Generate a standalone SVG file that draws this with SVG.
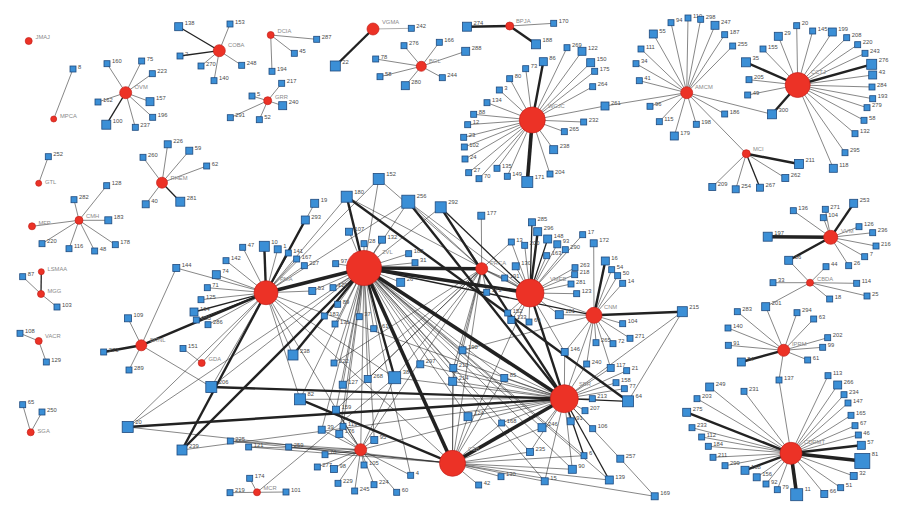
<svg xmlns="http://www.w3.org/2000/svg" width="910" height="516" viewBox="0 0 910 516">
<style>
.c line{stroke:#222;stroke-width:.55}
.c .m{stroke-width:1.3}
.c .t{stroke-width:2.4}
.c .x{stroke-width:3.6}
.c .g{stroke:#999;stroke-width:.8}
.h{fill:#ec3226;stroke:#c4211b;stroke-width:.7}
.n{fill:#3b8fd6;stroke:#1f4a7e;stroke-width:.8}
text{font-family:"Liberation Sans",Arial,sans-serif;font-size:5.8px;fill:#4a4a4a}
.hl{fill:#8a8a8a}
</style>
<rect width="910" height="516" fill="#fff"/>
<g id="connectors" class="c">
<line x1="53.7" y1="119" x2="73" y2="69"/>
<line x1="125.7" y1="92.7" x2="107" y2="63.7"/><line x1="125.7" y1="92.7" x2="141.7" y2="61"/><line x1="125.7" y1="92.7" x2="152.3" y2="73.7"/><line x1="125.7" y1="92.7" x2="98" y2="102"/><line x1="125.7" y1="92.7" x2="150" y2="101.7"/><line class="m" x1="125.7" y1="92.7" x2="106.3" y2="124.7"/><line x1="125.7" y1="92.7" x2="152.7" y2="117.3"/><line x1="125.7" y1="92.7" x2="135.3" y2="127.3"/>
<line class="m" x1="219.3" y1="50.7" x2="178.7" y2="26.7"/><line x1="219.3" y1="50.7" x2="230" y2="24"/><line class="m" x1="219.3" y1="50.7" x2="180" y2="56"/><line x1="219.3" y1="50.7" x2="201" y2="66"/><line x1="219.3" y1="50.7" x2="241.7" y2="65.3"/><line x1="219.3" y1="50.7" x2="214" y2="80.7"/>
<line x1="270.7" y1="35" x2="294.3" y2="53.3"/><line x1="270.7" y1="35" x2="272" y2="71.3"/><line x1="270.7" y1="35" x2="316.7" y2="39.3"/>
<line x1="267.7" y1="100.7" x2="281.7" y2="83.3"/><line x1="267.7" y1="100.7" x2="252" y2="96"/><line x1="267.7" y1="100.7" x2="282.7" y2="105.7"/><line x1="267.7" y1="100.7" x2="230.3" y2="117.7"/><line x1="267.7" y1="100.7" x2="259.3" y2="119.7"/>
<line x1="38.7" y1="183.3" x2="48.3" y2="156.7"/>
<line x1="162" y1="182.7" x2="167.7" y2="144.3"/><line x1="162" y1="182.7" x2="189.3" y2="150.7"/><line x1="162" y1="182.7" x2="143" y2="157.3"/><line x1="162" y1="182.7" x2="206.7" y2="166"/><line x1="162" y1="182.7" x2="145.7" y2="204.3"/><line class="m" x1="162" y1="182.7" x2="180.3" y2="201.7"/>
<line x1="79" y1="220.3" x2="32" y2="226.3"/><line x1="79" y1="220.3" x2="106.7" y2="185.7"/><line x1="79" y1="220.3" x2="74" y2="199.7"/><line x1="79" y1="220.3" x2="108.3" y2="220.3"/><line x1="79" y1="220.3" x2="42" y2="243.7"/><line x1="79" y1="220.3" x2="69" y2="248.7"/><line x1="79" y1="220.3" x2="94.7" y2="251"/><line x1="79" y1="220.3" x2="115.3" y2="244.7"/>
<line class="m" x1="41.3" y1="271.7" x2="41" y2="294"/><line x1="41" y1="294" x2="22.7" y2="276.7"/><line x1="41" y1="294" x2="57" y2="307"/>
<line x1="38.7" y1="341" x2="20" y2="333.3"/><line x1="38.7" y1="341" x2="46.3" y2="362"/>
<line x1="30.7" y1="432.3" x2="22.7" y2="404.7"/><line x1="30.7" y1="432.3" x2="42" y2="412"/>
<line x1="257" y1="492.3" x2="249.7" y2="478.3"/><line x1="257" y1="492.3" x2="230" y2="492.7"/><line x1="257" y1="492.3" x2="286" y2="492"/><line x1="257" y1="492.3" x2="394.7" y2="377.7"/>
<line class="g" x1="373" y1="29" x2="411.3" y2="28.3"/><line class="t" x1="373" y1="29" x2="335.3" y2="66"/>
<line class="t" x1="509.7" y1="26" x2="467" y2="26.7"/><line x1="509.7" y1="26" x2="553.7" y2="23.3"/><line class="t" x1="509.7" y1="26" x2="536" y2="44.3"/>
<line x1="421.3" y1="66.3" x2="404" y2="45.7"/><line x1="421.3" y1="66.3" x2="439.3" y2="42.3"/><line x1="421.3" y1="66.3" x2="465.7" y2="51.3"/><line x1="421.3" y1="66.3" x2="375.7" y2="59"/><line x1="421.3" y1="66.3" x2="380" y2="76.7"/><line x1="421.3" y1="66.3" x2="442.3" y2="77.7"/><line x1="421.3" y1="66.3" x2="405.3" y2="85.7"/>
<line x1="532.3" y1="120" x2="567" y2="47.7"/><line x1="532.3" y1="120" x2="582" y2="51.3"/><line class="t" x1="532.3" y1="120" x2="543.3" y2="61.7"/><line x1="532.3" y1="120" x2="525.7" y2="68.7"/><line x1="532.3" y1="120" x2="590.7" y2="62.7"/><line x1="532.3" y1="120" x2="594.7" y2="71.3"/><line x1="532.3" y1="120" x2="509.7" y2="78.7"/><line x1="532.3" y1="120" x2="592.7" y2="86.7"/><line x1="532.3" y1="120" x2="499.3" y2="90"/><line x1="532.3" y1="120" x2="487" y2="102.7"/><line x1="532.3" y1="120" x2="605" y2="106"/><line x1="532.3" y1="120" x2="473.7" y2="114.3"/><line x1="532.3" y1="120" x2="467.7" y2="124.7"/><line x1="532.3" y1="120" x2="583.7" y2="122"/><line x1="532.3" y1="120" x2="564.3" y2="131.7"/><line x1="532.3" y1="120" x2="463.7" y2="137.3"/><line x1="532.3" y1="120" x2="464.3" y2="147"/><line x1="532.3" y1="120" x2="553.7" y2="149.7"/><line x1="532.3" y1="120" x2="465" y2="159"/><line x1="532.3" y1="120" x2="468.7" y2="172.7"/><line x1="532.3" y1="120" x2="479" y2="178.7"/><line x1="532.3" y1="120" x2="497" y2="168.3"/><line x1="532.3" y1="120" x2="507.3" y2="176.3"/><line class="x" x1="532.3" y1="120" x2="527.3" y2="182"/><line x1="532.3" y1="120" x2="550" y2="174"/>
<line x1="686.7" y1="92.7" x2="671" y2="22.7"/><line x1="686.7" y1="92.7" x2="688" y2="18"/><line x1="686.7" y1="92.7" x2="700.7" y2="19.3"/><line x1="686.7" y1="92.7" x2="715" y2="25.3"/><line x1="686.7" y1="92.7" x2="724.7" y2="34.7"/><line x1="686.7" y1="92.7" x2="653.3" y2="34"/><line x1="686.7" y1="92.7" x2="732.7" y2="46"/><line x1="686.7" y1="92.7" x2="641" y2="49"/><line x1="686.7" y1="92.7" x2="636" y2="63.7"/><line x1="686.7" y1="92.7" x2="639.3" y2="80.7"/><line x1="686.7" y1="92.7" x2="650" y2="106.3"/><line x1="686.7" y1="92.7" x2="659.3" y2="121.7"/><line x1="686.7" y1="92.7" x2="674.3" y2="136"/><line x1="686.7" y1="92.7" x2="696.3" y2="124.3"/><line x1="686.7" y1="92.7" x2="724.7" y2="114"/><line x1="686.7" y1="92.7" x2="772" y2="114.3"/><line x1="686.7" y1="92.7" x2="605" y2="106"/><line x1="686.7" y1="92.7" x2="746.3" y2="153.7"/>
<line x1="797.7" y1="85" x2="796.7" y2="25.7"/><line x1="797.7" y1="85" x2="778.3" y2="36.3"/><line x1="797.7" y1="85" x2="812.7" y2="31"/><line x1="797.7" y1="85" x2="832.3" y2="32"/><line x1="797.7" y1="85" x2="763" y2="49"/><line x1="797.7" y1="85" x2="846.7" y2="37.7"/><line x1="797.7" y1="85" x2="857.7" y2="44.7"/><line x1="797.7" y1="85" x2="865" y2="53.3"/><line class="t" x1="797.7" y1="85" x2="746" y2="62.3"/><line class="t" x1="797.7" y1="85" x2="871.7" y2="64.3"/><line x1="797.7" y1="85" x2="872.7" y2="75"/><line x1="797.7" y1="85" x2="749" y2="79.7"/><line x1="797.7" y1="85" x2="872" y2="87"/><line x1="797.7" y1="85" x2="747.7" y2="95"/><line x1="797.7" y1="85" x2="872.7" y2="98.7"/><line x1="797.7" y1="85" x2="867" y2="107.7"/><line x1="797.7" y1="85" x2="864" y2="120.3"/><line x1="797.7" y1="85" x2="855" y2="133.7"/><line x1="797.7" y1="85" x2="845" y2="152.7"/><line x1="797.7" y1="85" x2="833.3" y2="168.3"/><line class="t" x1="797.7" y1="85" x2="772" y2="114.3"/>
<line class="t" x1="746.3" y1="153.7" x2="799" y2="164"/><line x1="746.3" y1="153.7" x2="785.3" y2="178"/><line x1="746.3" y1="153.7" x2="712.3" y2="187"/><line x1="746.3" y1="153.7" x2="735.7" y2="189.3"/><line class="m" x1="746.3" y1="153.7" x2="760" y2="187.7"/>
<line x1="830.7" y1="237.3" x2="793.3" y2="210.7"/><line x1="830.7" y1="237.3" x2="825.3" y2="209.3"/><line x1="830.7" y1="237.3" x2="823.3" y2="217.7"/><line class="t" x1="830.7" y1="237.3" x2="853.7" y2="203.3"/><line x1="830.7" y1="237.3" x2="859" y2="226.7"/><line x1="830.7" y1="237.3" x2="872.7" y2="232.7"/><line x1="830.7" y1="237.3" x2="876" y2="246"/><line class="x" x1="830.7" y1="237.3" x2="767.7" y2="236.7"/><line class="t" x1="830.7" y1="237.3" x2="788.7" y2="260.3"/><line x1="830.7" y1="237.3" x2="864.7" y2="256.7"/><line x1="830.7" y1="237.3" x2="848.7" y2="265.7"/>
<line x1="810" y1="282.7" x2="788.7" y2="260.3"/><line x1="810" y1="282.7" x2="826" y2="266.7"/><line x1="810" y1="282.7" x2="773" y2="282.7"/><line x1="810" y1="282.7" x2="856.7" y2="283.3"/><line x1="810" y1="282.7" x2="867" y2="296"/><line x1="810" y1="282.7" x2="829.7" y2="299"/><line x1="810" y1="282.7" x2="765.7" y2="306.7"/>
<line x1="783.7" y1="350.3" x2="765.7" y2="306.7"/><line x1="783.7" y1="350.3" x2="737.3" y2="311.7"/><line x1="783.7" y1="350.3" x2="797" y2="312.7"/><line x1="783.7" y1="350.3" x2="813.7" y2="319"/><line x1="783.7" y1="350.3" x2="728" y2="328"/><line x1="783.7" y1="350.3" x2="827.7" y2="337.7"/><line x1="783.7" y1="350.3" x2="822.7" y2="347.3"/><line x1="783.7" y1="350.3" x2="728.3" y2="345.3"/><line class="t" x1="783.7" y1="350.3" x2="741.3" y2="362"/><line x1="783.7" y1="350.3" x2="807.7" y2="360"/><line x1="783.7" y1="350.3" x2="779" y2="380"/>
<line x1="791" y1="453.3" x2="779" y2="380"/><line x1="791" y1="453.3" x2="828" y2="375.7"/><line x1="791" y1="453.3" x2="837.7" y2="385"/><line x1="791" y1="453.3" x2="844" y2="394.7"/><line x1="791" y1="453.3" x2="848" y2="403"/><line x1="791" y1="453.3" x2="851" y2="415.3"/><line x1="791" y1="453.3" x2="855" y2="425.7"/><line x1="791" y1="453.3" x2="858.3" y2="435"/><line class="t" x1="791" y1="453.3" x2="861.3" y2="445.3"/><line class="x" x1="791" y1="453.3" x2="862.3" y2="461"/><line x1="791" y1="453.3" x2="853.7" y2="476"/><line x1="791" y1="453.3" x2="840.7" y2="487.7"/><line x1="791" y1="453.3" x2="824.3" y2="494"/><line class="x" x1="791" y1="453.3" x2="796.7" y2="494.7"/><line x1="791" y1="453.3" x2="777.3" y2="489.7"/><line x1="791" y1="453.3" x2="766" y2="484"/><line x1="791" y1="453.3" x2="756.7" y2="477.3"/><line class="t" x1="791" y1="453.3" x2="745" y2="470.3"/><line x1="791" y1="453.3" x2="725" y2="465.7"/><line x1="791" y1="453.3" x2="713" y2="457.3"/><line x1="791" y1="453.3" x2="708.3" y2="446.3"/><line x1="791" y1="453.3" x2="701.7" y2="437"/><line x1="791" y1="453.3" x2="692" y2="427.7"/><line class="t" x1="791" y1="453.3" x2="686.7" y2="412.3"/><line x1="791" y1="453.3" x2="697" y2="398.7"/><line x1="791" y1="453.3" x2="709.7" y2="387"/><line x1="791" y1="453.3" x2="744" y2="391.3"/>
<line x1="141.3" y1="345.3" x2="176.3" y2="268"/><line x1="141.3" y1="345.3" x2="128" y2="318.3"/><line class="t" x1="141.3" y1="345.3" x2="103.7" y2="352"/><line x1="141.3" y1="345.3" x2="129" y2="370"/><line x1="141.3" y1="345.3" x2="211.3" y2="387"/><line class="t" x1="141.3" y1="345.3" x2="266" y2="292.7"/>
<line x1="176.3" y1="268" x2="266" y2="292.7"/>
<line x1="201.7" y1="363" x2="183" y2="348.5"/><line x1="201.7" y1="363" x2="266" y2="292.7"/>
<line x1="266" y1="292.7" x2="242.7" y2="247.3"/><line class="t" x1="266" y1="292.7" x2="264.3" y2="246.3"/><line x1="266" y1="292.7" x2="277.7" y2="249.3"/><line class="m" x1="266" y1="292.7" x2="288.3" y2="253"/><line x1="266" y1="292.7" x2="296.7" y2="259"/><line x1="266" y1="292.7" x2="304.3" y2="265.7"/><line x1="266" y1="292.7" x2="226" y2="260.7"/><line x1="266" y1="292.7" x2="216.3" y2="274.7"/><line x1="266" y1="292.7" x2="207.3" y2="287.7"/><line x1="266" y1="292.7" x2="201" y2="299.7"/><line class="m" x1="266" y1="292.7" x2="194" y2="312"/><line class="m" x1="266" y1="292.7" x2="196.3" y2="320"/><line x1="266" y1="292.7" x2="208" y2="324.7"/><line x1="266" y1="292.7" x2="312.3" y2="291"/><line class="t" x1="266" y1="292.7" x2="305.3" y2="220"/><line x1="266" y1="292.7" x2="314.7" y2="203.3"/><line class="t" x1="266" y1="292.7" x2="182" y2="450"/><line x1="266" y1="292.7" x2="127.7" y2="427"/><line x1="266" y1="292.7" x2="211.3" y2="387"/><line x1="266" y1="292.7" x2="360.7" y2="449.7"/><line x1="266" y1="292.7" x2="452.5" y2="463.3"/><line x1="266" y1="292.7" x2="394.7" y2="377.7"/><line x1="266" y1="292.7" x2="564.3" y2="398.7"/><line x1="266" y1="292.7" x2="300" y2="399.3"/><line x1="266" y1="292.7" x2="293" y2="355"/><line x1="266" y1="292.7" x2="378.7" y2="179"/><line x1="266" y1="292.7" x2="346.7" y2="196.7"/><line x1="266" y1="292.7" x2="408.3" y2="201.7"/><line class="x" x1="266" y1="292.7" x2="364" y2="268"/>
<line class="t" x1="364" y1="268" x2="346.7" y2="196.7"/><line x1="364" y1="268" x2="378.7" y2="179"/><line x1="364" y1="268" x2="408.3" y2="201.7"/><line x1="364" y1="268" x2="440.7" y2="207.3"/><line x1="364" y1="268" x2="349" y2="231.7"/><line x1="364" y1="268" x2="364" y2="243.7"/><line x1="364" y1="268" x2="382" y2="239.7"/><line x1="364" y1="268" x2="408.7" y2="253.7"/><line x1="364" y1="268" x2="415" y2="262.7"/><line x1="364" y1="268" x2="335.7" y2="263.7"/><line x1="364" y1="268" x2="333" y2="287.7"/><line x1="364" y1="268" x2="337.7" y2="304.3"/><line x1="364" y1="268" x2="324.3" y2="316"/><line x1="364" y1="268" x2="335" y2="324"/><line x1="364" y1="268" x2="359.3" y2="316.7"/><line x1="364" y1="268" x2="373.7" y2="328.7"/><line x1="364" y1="268" x2="400.7" y2="282.3"/><line x1="364" y1="268" x2="312.3" y2="291"/>
<line class="x" x1="364" y1="268" x2="481.7" y2="268.7"/><line class="x" x1="364" y1="268" x2="530" y2="293"/><line class="x" x1="364" y1="268" x2="564.3" y2="398.7"/><line class="x" x1="364" y1="268" x2="452.5" y2="463.3"/><line class="t" x1="364" y1="268" x2="394.7" y2="377.7"/><line class="t" x1="364" y1="268" x2="182" y2="450"/><line class="t" x1="364" y1="268" x2="293" y2="355"/><line class="m" x1="364" y1="268" x2="594" y2="315.3"/>
<line x1="364" y1="268" x2="360.7" y2="449.7"/><line x1="364" y1="268" x2="334" y2="363"/><line x1="364" y1="268" x2="342.7" y2="384.7"/><line x1="364" y1="268" x2="367.7" y2="379"/><line x1="364" y1="268" x2="321.7" y2="429.7"/><line x1="364" y1="268" x2="336" y2="409.7"/><line x1="364" y1="268" x2="343" y2="426.3"/><line x1="364" y1="268" x2="339.3" y2="434"/><line x1="364" y1="268" x2="374.3" y2="440"/><line x1="364" y1="268" x2="300" y2="399.3"/><line x1="364" y1="268" x2="211.3" y2="387"/><line x1="364" y1="268" x2="127.7" y2="427"/><line x1="364" y1="268" x2="420.3" y2="364.3"/><line x1="364" y1="268" x2="453.3" y2="368"/><line x1="364" y1="268" x2="452.7" y2="381.3"/><line x1="364" y1="268" x2="410.7" y2="475.3"/><line x1="364" y1="268" x2="462.5" y2="350.3"/><line x1="364" y1="268" x2="468" y2="416.7"/><line x1="364" y1="268" x2="504.3" y2="378"/><line x1="364" y1="268" x2="542" y2="427.7"/><line x1="364" y1="268" x2="530" y2="452"/><line x1="364" y1="268" x2="572.3" y2="469.3"/><line x1="364" y1="268" x2="544.7" y2="481.3"/><line x1="364" y1="268" x2="584" y2="455.7"/><line x1="364" y1="268" x2="609.3" y2="480"/>
<line x1="481.7" y1="268.7" x2="481.3" y2="215.7"/><line x1="481.7" y1="268.7" x2="511.3" y2="242"/><line x1="481.7" y1="268.7" x2="486.7" y2="292.3"/><line x1="481.7" y1="268.7" x2="504.7" y2="278"/><line x1="481.7" y1="268.7" x2="530" y2="293"/><line x1="481.7" y1="268.7" x2="408.3" y2="201.7"/><line x1="481.7" y1="268.7" x2="440.7" y2="207.3"/><line x1="481.7" y1="268.7" x2="452.5" y2="463.3"/><line x1="481.7" y1="268.7" x2="360.7" y2="449.7"/><line x1="481.7" y1="268.7" x2="394.7" y2="377.7"/><line x1="481.7" y1="268.7" x2="452.7" y2="381.3"/><line x1="481.7" y1="268.7" x2="453.3" y2="368"/><line x1="481.7" y1="268.7" x2="462.5" y2="350.3"/><line x1="481.7" y1="268.7" x2="378.7" y2="179"/><line x1="481.7" y1="268.7" x2="334" y2="363"/><line x1="481.7" y1="268.7" x2="342.7" y2="384.7"/><line x1="481.7" y1="268.7" x2="367.7" y2="379"/><line x1="481.7" y1="268.7" x2="336" y2="409.7"/>
<line class="m" x1="530" y1="293" x2="532" y2="222.3"/><line class="t" x1="530" y1="293" x2="537.7" y2="231.7"/><line class="m" x1="530" y1="293" x2="547.7" y2="239"/><line x1="530" y1="293" x2="524.7" y2="245.3"/><line x1="530" y1="293" x2="557.3" y2="244.3"/><line x1="530" y1="293" x2="565.3" y2="249.7"/><line x1="530" y1="293" x2="546.7" y2="255.7"/><line x1="530" y1="293" x2="515.7" y2="266.3"/><line x1="530" y1="293" x2="504.7" y2="278"/><line x1="530" y1="293" x2="575" y2="267.7"/><line x1="530" y1="293" x2="574.7" y2="274.7"/><line x1="530" y1="293" x2="571" y2="284"/><line x1="530" y1="293" x2="576.7" y2="293.7"/><line x1="530" y1="293" x2="559.3" y2="314.7"/><line x1="530" y1="293" x2="507.7" y2="313"/><line x1="530" y1="293" x2="511.3" y2="320"/><line x1="530" y1="293" x2="529" y2="322"/><line x1="530" y1="293" x2="511.3" y2="242"/><line x1="530" y1="293" x2="582.7" y2="234.7"/><line class="t" x1="530" y1="293" x2="564.3" y2="398.7"/><line x1="530" y1="293" x2="594" y2="315.3"/><line x1="530" y1="293" x2="452.5" y2="463.3"/><line class="m" x1="530" y1="293" x2="440.7" y2="207.3"/><line x1="530" y1="293" x2="408.3" y2="201.7"/><line x1="530" y1="293" x2="346.7" y2="196.7"/><line x1="530" y1="293" x2="564.7" y2="352"/>
<line x1="594" y1="315.3" x2="593.7" y2="243.3"/><line class="t" x1="594" y1="315.3" x2="605.3" y2="261"/><line x1="594" y1="315.3" x2="611.7" y2="269.7"/><line x1="594" y1="315.3" x2="617.7" y2="275.7"/><line x1="594" y1="315.3" x2="622.7" y2="283.3"/><line x1="594" y1="315.3" x2="559.3" y2="314.7"/><line class="t" x1="594" y1="315.3" x2="682.3" y2="311.7"/><line x1="594" y1="315.3" x2="622.7" y2="323.7"/><line x1="594" y1="315.3" x2="630" y2="338.3"/><line x1="594" y1="315.3" x2="596" y2="342.7"/><line x1="594" y1="315.3" x2="613" y2="343.7"/><line x1="594" y1="315.3" x2="564.7" y2="352"/><line x1="594" y1="315.3" x2="564.3" y2="398.7"/><line x1="594" y1="315.3" x2="462.5" y2="350.3"/><line x1="594" y1="315.3" x2="586.7" y2="364"/><line x1="594" y1="315.3" x2="610.7" y2="368"/>
<line x1="682.3" y1="311.7" x2="564.3" y2="398.7"/><line x1="682.3" y1="311.7" x2="628" y2="401.3"/>
<line x1="564.3" y1="398.7" x2="564.7" y2="352"/><line x1="564.3" y1="398.7" x2="586.7" y2="364"/><line x1="564.3" y1="398.7" x2="610.7" y2="368"/><line x1="564.3" y1="398.7" x2="626.7" y2="370.7"/><line x1="564.3" y1="398.7" x2="616" y2="382.7"/><line x1="564.3" y1="398.7" x2="624.3" y2="388.7"/><line class="m" x1="564.3" y1="398.7" x2="628" y2="401.3"/><line x1="564.3" y1="398.7" x2="592.3" y2="398.7"/><line x1="564.3" y1="398.7" x2="585" y2="410.7"/><line x1="564.3" y1="398.7" x2="570.7" y2="421.3"/><line x1="564.3" y1="398.7" x2="592.7" y2="428.7"/><line class="m" x1="564.3" y1="398.7" x2="584" y2="455.7"/><line x1="564.3" y1="398.7" x2="620.3" y2="458.7"/><line x1="564.3" y1="398.7" x2="572.3" y2="469.3"/><line class="m" x1="564.3" y1="398.7" x2="609.3" y2="480"/><line x1="564.3" y1="398.7" x2="544.7" y2="481.3"/><line x1="564.3" y1="398.7" x2="542" y2="427.7"/><line x1="564.3" y1="398.7" x2="530" y2="452"/><line x1="564.3" y1="398.7" x2="468" y2="416.7"/><line x1="564.3" y1="398.7" x2="504.3" y2="378"/><line x1="564.3" y1="398.7" x2="453.3" y2="368"/><line x1="564.3" y1="398.7" x2="452.7" y2="381.3"/><line x1="564.3" y1="398.7" x2="462.5" y2="350.3"/><line x1="564.3" y1="398.7" x2="501.7" y2="423"/><line class="x" x1="564.3" y1="398.7" x2="452.5" y2="463.3"/><line class="t" x1="564.3" y1="398.7" x2="127.7" y2="427"/><line class="t" x1="564.3" y1="398.7" x2="211.3" y2="387"/><line x1="564.3" y1="398.7" x2="300" y2="399.3"/><line x1="564.3" y1="398.7" x2="394.7" y2="377.7"/><line x1="564.3" y1="398.7" x2="360.7" y2="449.7"/><line x1="564.3" y1="398.7" x2="420.3" y2="364.3"/><line class="t" x1="564.3" y1="398.7" x2="408.3" y2="201.7"/><line class="t" x1="564.3" y1="398.7" x2="440.7" y2="207.3"/><line x1="564.3" y1="398.7" x2="182" y2="450"/>
<line class="t" x1="346.7" y1="196.7" x2="628" y2="401.3"/>
<line x1="452.5" y1="463.3" x2="468" y2="416.7"/><line x1="452.5" y1="463.3" x2="501.7" y2="423"/><line x1="452.5" y1="463.3" x2="501" y2="476.7"/><line x1="452.5" y1="463.3" x2="478.7" y2="485"/><line x1="452.5" y1="463.3" x2="544.7" y2="481.3"/><line x1="452.5" y1="463.3" x2="572.3" y2="469.3"/><line x1="452.5" y1="463.3" x2="609.3" y2="480"/><line x1="452.5" y1="463.3" x2="530" y2="452"/><line x1="452.5" y1="463.3" x2="542" y2="427.7"/><line x1="452.5" y1="463.3" x2="584" y2="455.7"/><line x1="452.5" y1="463.3" x2="654.7" y2="496.3"/><line class="t" x1="452.5" y1="463.3" x2="300" y2="399.3"/><line x1="452.5" y1="463.3" x2="127.7" y2="427"/><line x1="452.5" y1="463.3" x2="288.7" y2="447"/><line x1="452.5" y1="463.3" x2="230.3" y2="441"/><line x1="452.5" y1="463.3" x2="248.7" y2="447"/><line x1="452.5" y1="463.3" x2="504.3" y2="378"/><line x1="452.5" y1="463.3" x2="452.7" y2="381.3"/><line x1="452.5" y1="463.3" x2="453.3" y2="368"/>
<line x1="654.7" y1="496.3" x2="620.3" y2="458.7"/>
<line x1="360.7" y1="449.7" x2="325" y2="454.7"/><line x1="360.7" y1="449.7" x2="317.3" y2="467"/><line x1="360.7" y1="449.7" x2="334" y2="469"/><line x1="360.7" y1="449.7" x2="364" y2="465"/><line x1="360.7" y1="449.7" x2="338" y2="483.3"/><line x1="360.7" y1="449.7" x2="354.7" y2="491"/><line x1="360.7" y1="449.7" x2="374" y2="484.7"/><line x1="360.7" y1="449.7" x2="396.7" y2="492.3"/><line x1="360.7" y1="449.7" x2="410.7" y2="475.3"/><line x1="360.7" y1="449.7" x2="374.3" y2="440"/><line x1="360.7" y1="449.7" x2="343" y2="426.3"/><line x1="360.7" y1="449.7" x2="339.3" y2="434"/><line x1="360.7" y1="449.7" x2="321.7" y2="429.7"/><line x1="360.7" y1="449.7" x2="336" y2="409.7"/><line x1="360.7" y1="449.7" x2="394.7" y2="377.7"/><line x1="360.7" y1="449.7" x2="230.3" y2="441"/><line x1="360.7" y1="449.7" x2="248.7" y2="447"/>
</g>
<g id="n-JMAJ"><circle class="h" cx="28.7" cy="41" r="3.5"/><text class="hl" x="35.5" y="39">JMAJ</text></g>
<g id="n-MPCA"><circle class="h" cx="53.7" cy="119" r="3"/><text class="hl" x="60" y="117.5">MPCA</text></g>
<g id="n-8"><rect class="n" x="70" y="66" width="6" height="6"/><text x="78" y="68.5">8</text></g>
<g id="n-OVM"><circle class="h" cx="125.7" cy="92.7" r="6"/><text class="hl" x="134.5" y="89">OVM</text></g>
<g id="n-160"><rect class="n" x="104" y="60.7" width="6" height="6"/><text x="112" y="63">160</text></g>
<g id="n-75"><rect class="n" x="138.7" y="58" width="6" height="6"/><text x="146.7" y="60.5">75</text></g>
<g id="n-223"><rect class="n" x="149.3" y="70.7" width="6" height="6"/><text x="157.3" y="73">223</text></g>
<g id="n-162"><rect class="n" x="95" y="99" width="6" height="6"/><text x="103" y="101.5">162</text></g>
<g id="n-157"><rect class="n" x="146" y="97.7" width="8" height="8"/><text x="156" y="100">157</text></g>
<g id="n-100"><rect class="n" x="101.8" y="120.2" width="9" height="9"/><text x="112.8" y="122.7">100</text></g>
<g id="n-196"><rect class="n" x="149.7" y="114.3" width="6" height="6"/><text x="157.7" y="116.8">196</text></g>
<g id="n-237"><rect class="n" x="132.3" y="124.3" width="6" height="6"/><text x="140.3" y="126.8">237</text></g>
<g id="n-COBA"><circle class="h" cx="219.3" cy="50.7" r="6"/><text class="hl" x="228" y="47">COBA</text></g>
<g id="n-138"><rect class="n" x="174.7" y="22.7" width="8" height="8"/><text x="184.7" y="25">138</text></g>
<g id="n-153"><rect class="n" x="227" y="21" width="6" height="6"/><text x="235" y="23.5">153</text></g>
<g id="n-2"><rect class="n" x="177" y="53" width="6" height="6"/><text x="185" y="55.5">2</text></g>
<g id="n-270"><rect class="n" x="198" y="63" width="6" height="6"/><text x="206" y="65.5">270</text></g>
<g id="n-248"><rect class="n" x="238.7" y="62.3" width="6" height="6"/><text x="246.7" y="64.8">248</text></g>
<g id="n-140"><rect class="n" x="211" y="77.7" width="6" height="6"/><text x="219" y="80.2">140</text></g>
<g id="n-DCIA"><circle class="h" cx="270.7" cy="35" r="3.5"/><text class="hl" x="277.5" y="33">DCIA</text></g>
<g id="n-45"><rect class="n" x="291.3" y="50.3" width="6" height="6"/><text x="299.3" y="52.8">45</text></g>
<g id="n-194"><rect class="n" x="269" y="68.3" width="6" height="6"/><text x="277" y="70.8">194</text></g>
<g id="n-287"><rect class="n" x="313.7" y="36.3" width="6" height="6"/><text x="321.7" y="38.8">287</text></g>
<g id="n-GRR"><circle class="h" cx="267.7" cy="100.7" r="4"/><text class="hl" x="275" y="98.5">GRR</text></g>
<g id="n-217"><rect class="n" x="278.7" y="80.3" width="6" height="6"/><text x="286.7" y="82.8">217</text></g>
<g id="n-5"><rect class="n" x="249" y="93" width="6" height="6"/><text x="257" y="95.5">5</text></g>
<g id="n-240"><rect class="n" x="278.7" y="101.7" width="8" height="8"/><text x="288.7" y="104.2">240</text></g>
<g id="n-291"><rect class="n" x="227.3" y="114.7" width="6" height="6"/><text x="235.3" y="117.2">291</text></g>
<g id="n-52"><rect class="n" x="256.3" y="116.7" width="6" height="6"/><text x="264.3" y="119.2">52</text></g>
<g id="n-GTL"><circle class="h" cx="38.7" cy="183.3" r="3"/><text class="hl" x="45" y="184">GTL</text></g>
<g id="n-252"><rect class="n" x="45.3" y="153.7" width="6" height="6"/><text x="53.3" y="156.2">252</text></g>
<g id="n-RHEM"><circle class="h" cx="162" cy="182.7" r="5.5"/><text class="hl" x="170.5" y="179.5">RHEM</text></g>
<g id="n-226"><rect class="n" x="164.2" y="140.8" width="7" height="7"/><text x="173.2" y="143.3">226</text></g>
<g id="n-59"><rect class="n" x="185.8" y="147.2" width="7" height="7"/><text x="194.8" y="149.7">59</text></g>
<g id="n-260"><rect class="n" x="140" y="154.3" width="6" height="6"/><text x="148" y="156.8">260</text></g>
<g id="n-62"><rect class="n" x="203.7" y="163" width="6" height="6"/><text x="211.7" y="165.5">62</text></g>
<g id="n-40"><rect class="n" x="142.2" y="200.8" width="7" height="7"/><text x="151.2" y="203.3">40</text></g>
<g id="n-281"><rect class="n" x="175.8" y="197.2" width="9" height="9"/><text x="186.8" y="199.7">281</text></g>
<g id="n-CMH"><circle class="h" cx="79" cy="220.3" r="4"/><text class="hl" x="86" y="218">CMH</text></g>
<g id="n-MFP"><circle class="h" cx="32" cy="226.3" r="3.5"/><text class="hl" x="38.5" y="225">MFP</text></g>
<g id="n-128"><rect class="n" x="103.7" y="182.7" width="6" height="6"/><text x="111.7" y="185.2">128</text></g>
<g id="n-282"><rect class="n" x="71" y="196.7" width="6" height="6"/><text x="79" y="199.2">282</text></g>
<g id="n-183"><rect class="n" x="104.8" y="216.8" width="7" height="7"/><text x="113.8" y="219.3">183</text></g>
<g id="n-220"><rect class="n" x="39" y="240.7" width="6" height="6"/><text x="47" y="243.2">220</text></g>
<g id="n-116"><rect class="n" x="66" y="245.7" width="6" height="6"/><text x="74" y="248.2">116</text></g>
<g id="n-48"><rect class="n" x="91.7" y="248" width="6" height="6"/><text x="99.7" y="250.5">48</text></g>
<g id="n-178"><rect class="n" x="112.3" y="241.7" width="6" height="6"/><text x="120.3" y="244.2">178</text></g>
<g id="n-LSMAA"><circle class="h" cx="41.3" cy="271.7" r="3"/><text class="hl" x="47.5" y="271">LSMAA</text></g>
<g id="n-MGG"><circle class="h" cx="41" cy="294" r="3.5"/><text class="hl" x="47.5" y="293">MGG</text></g>
<g id="n-87"><rect class="n" x="19.7" y="273.7" width="6" height="6"/><text x="27.7" y="276.2">87</text></g>
<g id="n-103"><rect class="n" x="54" y="304" width="6" height="6"/><text x="62" y="306.5">103</text></g>
<g id="n-VACR"><circle class="h" cx="38.7" cy="341" r="3.5"/><text class="hl" x="45" y="338">VACR</text></g>
<g id="n-108"><rect class="n" x="17" y="330.3" width="6" height="6"/><text x="25" y="332.8">108</text></g>
<g id="n-129"><rect class="n" x="43.3" y="359" width="6" height="6"/><text x="51.3" y="361.5">129</text></g>
<g id="n-SGA"><circle class="h" cx="30.7" cy="432.3" r="3.5"/><text class="hl" x="37.5" y="433">SGA</text></g>
<g id="n-65"><rect class="n" x="19.7" y="401.7" width="6" height="6"/><text x="27.7" y="404.2">65</text></g>
<g id="n-250"><rect class="n" x="39" y="409" width="6" height="6"/><text x="47" y="411.5">250</text></g>
<g id="n-BRNL"><circle class="h" cx="141.3" cy="345.3" r="5.5"/><text class="hl" x="150" y="342">BRNL</text></g>
<g id="n-144"><rect class="n" x="172.8" y="264.5" width="7" height="7"/><text x="181.8" y="267">144</text></g>
<g id="n-109"><rect class="n" x="124.5" y="314.8" width="7" height="7"/><text x="133.5" y="317.3">109</text></g>
<g id="n-273"><rect class="n" x="100.7" y="349" width="6" height="6"/><text x="108.7" y="351.5">273</text></g>
<g id="n-289"><rect class="n" x="126" y="367" width="6" height="6"/><text x="134" y="369.5">289</text></g>
<g id="n-GDA"><circle class="h" cx="201.7" cy="363" r="3.5"/><text class="hl" x="208.5" y="361">GDA</text></g>
<g id="n-151"><rect class="n" x="180" y="345.5" width="6" height="6"/><text x="188" y="348">151</text></g>
<g id="n-206"><rect class="n" x="205.8" y="381.5" width="11" height="11"/><text x="218.8" y="384">206</text></g>
<g id="n-20"><rect class="n" x="122.2" y="421.5" width="11" height="11"/><text x="135.2" y="424">20</text></g>
<g id="n-239"><rect class="n" x="177" y="445" width="10" height="10"/><text x="189" y="447.5">239</text></g>
<g id="n-225"><rect class="n" x="227.3" y="438" width="6" height="6"/><text x="235.3" y="440.5">225</text></g>
<g id="n-121"><rect class="n" x="245.7" y="444" width="6" height="6"/><text x="253.7" y="446.5">121</text></g>
<g id="n-259"><rect class="n" x="285.7" y="444" width="6" height="6"/><text x="293.7" y="446.5">259</text></g>
<g id="n-238"><rect class="n" x="288" y="350" width="10" height="10"/><text x="300" y="352.5">238</text></g>
<g id="n-82"><rect class="n" x="294.5" y="393.8" width="11" height="11"/><text x="307.5" y="396.3">82</text></g>
<g id="n-MCR"><circle class="h" cx="257" cy="492.3" r="3.5"/><text class="hl" x="263.5" y="490">MCR</text></g>
<g id="n-174"><rect class="n" x="246.7" y="475.3" width="6" height="6"/><text x="254.7" y="477.8">174</text></g>
<g id="n-219"><rect class="n" x="227" y="489.7" width="6" height="6"/><text x="235" y="492.2">219</text></g>
<g id="n-101"><rect class="n" x="283" y="489" width="6" height="6"/><text x="291" y="491.5">101</text></g>
<g id="n-PMA"><circle class="h" cx="266" cy="292.7" r="12"/><text class="hl" x="280" y="281">PMA</text></g>
<g id="n-47"><rect class="n" x="239.7" y="244.3" width="6" height="6"/><text x="247.7" y="246.8">47</text></g>
<g id="n-10"><rect class="n" x="259.3" y="241.3" width="10" height="10"/><text x="271.3" y="243.8">10</text></g>
<g id="n-1"><rect class="n" x="274.2" y="245.8" width="7" height="7"/><text x="283.2" y="248.3">1</text></g>
<g id="n-141"><rect class="n" x="285.3" y="250" width="6" height="6"/><text x="293.3" y="252.5">141</text></g>
<g id="n-167"><rect class="n" x="293.7" y="256" width="6" height="6"/><text x="301.7" y="258.5">167</text></g>
<g id="n-227"><rect class="n" x="301.3" y="262.7" width="6" height="6"/><text x="309.3" y="265.2">227</text></g>
<g id="n-142"><rect class="n" x="223" y="257.7" width="6" height="6"/><text x="231" y="260.2">142</text></g>
<g id="n-74"><rect class="n" x="212.3" y="270.7" width="8" height="8"/><text x="222.3" y="273.2">74</text></g>
<g id="n-71"><rect class="n" x="204.3" y="284.7" width="6" height="6"/><text x="212.3" y="287.2">71</text></g>
<g id="n-125"><rect class="n" x="198" y="296.7" width="6" height="6"/><text x="206" y="299.2">125</text></g>
<g id="n-164"><rect class="n" x="190" y="308" width="8" height="8"/><text x="200" y="310.5">164</text></g>
<g id="n-185"><rect class="n" x="193.3" y="317" width="6" height="6"/><text x="201.3" y="319.5">185</text></g>
<g id="n-286"><rect class="n" x="205" y="321.7" width="6" height="6"/><text x="213" y="324.2">286</text></g>
<g id="n-19"><rect class="n" x="310.7" y="199.3" width="8" height="8"/><text x="320.7" y="201.8">19</text></g>
<g id="n-293"><rect class="n" x="301.3" y="216" width="8" height="8"/><text x="311.3" y="218.5">293</text></g>
<g id="n-53"><rect class="n" x="308.8" y="287.5" width="7" height="7"/><text x="317.8" y="290">53</text></g>
<g id="n-ZVL"><circle class="h" cx="364" cy="268" r="17.5"/><text class="hl" x="382" y="254">ZVL</text></g>
<g id="n-180"><rect class="n" x="341.2" y="191.2" width="11" height="11"/><text x="354.2" y="193.7">180</text></g>
<g id="n-152"><rect class="n" x="373.2" y="173.5" width="11" height="11"/><text x="386.2" y="176">152</text></g>
<g id="n-256"><rect class="n" x="401.8" y="195.2" width="13" height="13"/><text x="416.8" y="197.7">256</text></g>
<g id="n-292"><rect class="n" x="435.2" y="201.8" width="11" height="11"/><text x="448.2" y="204.3">292</text></g>
<g id="n-107"><rect class="n" x="345.5" y="228.2" width="7" height="7"/><text x="354.5" y="230.7">107</text></g>
<g id="n-28"><rect class="n" x="361" y="240.7" width="6" height="6"/><text x="369" y="243.2">28</text></g>
<g id="n-132"><rect class="n" x="378.5" y="236.2" width="7" height="7"/><text x="387.5" y="238.7">132</text></g>
<g id="n-182"><rect class="n" x="405.7" y="250.7" width="6" height="6"/><text x="413.7" y="253.2">182</text></g>
<g id="n-31"><rect class="n" x="412" y="259.7" width="6" height="6"/><text x="420" y="262.2">31</text></g>
<g id="n-97"><rect class="n" x="332.7" y="260.7" width="6" height="6"/><text x="340.7" y="263.2">97</text></g>
<g id="n-120"><rect class="n" x="330" y="284.7" width="6" height="6"/><text x="338" y="287.2">120</text></g>
<g id="n-89"><rect class="n" x="334.7" y="301.3" width="6" height="6"/><text x="342.7" y="303.8">89</text></g>
<g id="n-183c"><rect class="n" x="321.3" y="313" width="6" height="6"/><text x="329.3" y="315.5">183</text></g>
<g id="n-131"><rect class="n" x="332" y="321" width="6" height="6"/><text x="340" y="323.5">131</text></g>
<g id="n-37"><rect class="n" x="356.3" y="313.7" width="6" height="6"/><text x="364.3" y="316.2">37</text></g>
<g id="n-161"><rect class="n" x="370.7" y="325.7" width="6" height="6"/><text x="378.7" y="328.2">161</text></g>
<g id="n-26"><rect class="n" x="396.7" y="278.3" width="8" height="8"/><text x="406.7" y="280.8">26</text></g>
<g id="n-222"><rect class="n" x="331" y="360" width="6" height="6"/><text x="339" y="362.5">222</text></g>
<g id="n-127"><rect class="n" x="339.2" y="381.2" width="7" height="7"/><text x="348.2" y="383.7">127</text></g>
<g id="n-268"><rect class="n" x="364.2" y="375.5" width="7" height="7"/><text x="373.2" y="378">268</text></g>
<g id="n-38"><rect class="n" x="388.7" y="371.7" width="12" height="12"/><text x="402.7" y="374.2">38</text></g>
<g id="n-297"><rect class="n" x="416.8" y="360.8" width="7" height="7"/><text x="425.8" y="363.3">297</text></g>
<g id="n-210"><rect class="n" x="449.8" y="364.5" width="7" height="7"/><text x="458.8" y="367">210</text></g>
<g id="n-214"><rect class="n" x="448.7" y="377.3" width="8" height="8"/><text x="458.7" y="379.8">214</text></g>
<g id="n-190"><rect class="n" x="459" y="346.8" width="7" height="7"/><text x="468" y="349.3">190</text></g>
<g id="n-159"><rect class="n" x="332.5" y="406.2" width="7" height="7"/><text x="341.5" y="408.7">159</text></g>
<g id="n-39"><rect class="n" x="318.2" y="426.2" width="7" height="7"/><text x="327.2" y="428.7">39</text></g>
<g id="n-119"><rect class="n" x="340" y="423.3" width="6" height="6"/><text x="348" y="425.8">119</text></g>
<g id="n-176"><rect class="n" x="335.8" y="430.5" width="7" height="7"/><text x="344.8" y="433">176</text></g>
<g id="n-95"><rect class="n" x="370.8" y="436.5" width="7" height="7"/><text x="379.8" y="439">95</text></g>
<g id="n-H2"><circle class="h" cx="360.7" cy="449.7" r="6"/></g>
<g id="n-78"><rect class="n" x="322" y="451.7" width="6" height="6"/><text x="330" y="454.2">78</text></g>
<g id="n-277"><rect class="n" x="314.3" y="464" width="6" height="6"/><text x="322.3" y="466.5">277</text></g>
<g id="n-98"><rect class="n" x="330.5" y="465.5" width="7" height="7"/><text x="339.5" y="468">98</text></g>
<g id="n-105"><rect class="n" x="361" y="462" width="6" height="6"/><text x="369" y="464.5">105</text></g>
<g id="n-229"><rect class="n" x="335" y="480.3" width="6" height="6"/><text x="343" y="482.8">229</text></g>
<g id="n-245"><rect class="n" x="351.7" y="488" width="6" height="6"/><text x="359.7" y="490.5">245</text></g>
<g id="n-224"><rect class="n" x="371" y="481.7" width="6" height="6"/><text x="379" y="484.2">224</text></g>
<g id="n-4"><rect class="n" x="407.7" y="472.3" width="6" height="6"/><text x="415.7" y="474.8">4</text></g>
<g id="n-60"><rect class="n" x="393.7" y="489.3" width="6" height="6"/><text x="401.7" y="491.8">60</text></g>
<g id="n-C3B"><circle class="h" cx="452.5" cy="463.3" r="13"/><text class="hl" x="468" y="451">C3B</text></g>
<g id="n-124"><rect class="n" x="464" y="412.7" width="8" height="8"/><text x="474" y="415.2">124</text></g>
<g id="n-168c"><rect class="n" x="498.7" y="420" width="6" height="6"/><text x="506.7" y="422.5">168</text></g>
<g id="n-130c"><rect class="n" x="498" y="473.7" width="6" height="6"/><text x="506" y="476.2">130</text></g>
<g id="n-42"><rect class="n" x="475.7" y="482" width="6" height="6"/><text x="483.7" y="484.5">42</text></g>
<g id="n-85"><rect class="n" x="500.8" y="374.5" width="7" height="7"/><text x="509.8" y="377">85</text></g>
<g id="n-246"><rect class="n" x="538" y="423.7" width="8" height="8"/><text x="548" y="426.2">246</text></g>
<g id="n-235"><rect class="n" x="526.5" y="448.5" width="7" height="7"/><text x="535.5" y="451">235</text></g>
<g id="n-15"><rect class="n" x="541.2" y="477.8" width="7" height="7"/><text x="550.2" y="480.3">15</text></g>
<g id="n-6"><rect class="n" x="581" y="452.7" width="6" height="6"/><text x="589" y="455.2">6</text></g>
<g id="n-90"><rect class="n" x="568.3" y="465.3" width="8" height="8"/><text x="578.3" y="467.8">90</text></g>
<g id="n-139"><rect class="n" x="605.3" y="476" width="8" height="8"/><text x="615.3" y="478.5">139</text></g>
<g id="n-257"><rect class="n" x="616.8" y="455.2" width="7" height="7"/><text x="625.8" y="457.7">257</text></g>
<g id="n-169"><rect class="n" x="651.2" y="492.8" width="7" height="7"/><text x="660.2" y="495.3">169</text></g>
<g id="n-SBR"><circle class="h" cx="564.3" cy="398.7" r="14"/><text class="hl" x="579" y="386">SBR</text></g>
<g id="n-146"><rect class="n" x="561.2" y="348.5" width="7" height="7"/><text x="570.2" y="351">146</text></g>
<g id="n-240b"><rect class="n" x="583.7" y="361" width="6" height="6"/><text x="591.7" y="363.5">240</text></g>
<g id="n-117"><rect class="n" x="607.2" y="364.5" width="7" height="7"/><text x="616.2" y="367">117</text></g>
<g id="n-21"><rect class="n" x="623.7" y="367.7" width="6" height="6"/><text x="631.7" y="370.2">21</text></g>
<g id="n-158"><rect class="n" x="613" y="379.7" width="6" height="6"/><text x="621" y="382.2">158</text></g>
<g id="n-77"><rect class="n" x="621.3" y="385.7" width="6" height="6"/><text x="629.3" y="388.2">77</text></g>
<g id="n-64"><rect class="n" x="622.5" y="395.8" width="11" height="11"/><text x="635.5" y="398.3">64</text></g>
<g id="n-213"><rect class="n" x="589.3" y="395.7" width="6" height="6"/><text x="597.3" y="398.2">213</text></g>
<g id="n-207"><rect class="n" x="582" y="407.7" width="6" height="6"/><text x="590" y="410.2">207</text></g>
<g id="n-91b"><rect class="n" x="567.2" y="417.8" width="7" height="7"/><text x="576.2" y="420.3">91</text></g>
<g id="n-106"><rect class="n" x="589.7" y="425.7" width="6" height="6"/><text x="597.7" y="428.2">106</text></g>
<g id="n-VMEE"><circle class="h" cx="530" cy="293" r="14"/><text class="hl" x="550" y="281">VMEE</text></g>
<g id="n-PRCA"><circle class="h" cx="481.7" cy="268.7" r="6"/><text class="hl" x="490" y="265">PRCA</text></g>
<g id="n-177"><rect class="n" x="477.8" y="212.2" width="7" height="7"/><text x="486.8" y="214.7">177</text></g>
<g id="n-13"><rect class="n" x="508.3" y="239" width="6" height="6"/><text x="516.3" y="241.5">13</text></g>
<g id="n-285"><rect class="n" x="528.5" y="218.8" width="7" height="7"/><text x="537.5" y="221.3">285</text></g>
<g id="n-296"><rect class="n" x="533.7" y="227.7" width="8" height="8"/><text x="543.7" y="230.2">296</text></g>
<g id="n-148"><rect class="n" x="543.7" y="235" width="8" height="8"/><text x="553.7" y="237.5">148</text></g>
<g id="n-93"><rect class="n" x="553.8" y="240.8" width="7" height="7"/><text x="562.8" y="243.3">93</text></g>
<g id="n-200"><rect class="n" x="521.7" y="242.3" width="6" height="6"/><text x="529.7" y="244.8">200</text></g>
<g id="n-290"><rect class="n" x="562.3" y="246.7" width="6" height="6"/><text x="570.3" y="249.2">290</text></g>
<g id="n-17"><rect class="n" x="579.7" y="231.7" width="6" height="6"/><text x="587.7" y="234.2">17</text></g>
<g id="n-172"><rect class="n" x="590.2" y="239.8" width="7" height="7"/><text x="599.2" y="242.3">172</text></g>
<g id="n-163"><rect class="n" x="543.7" y="252.7" width="6" height="6"/><text x="551.7" y="255.2">163</text></g>
<g id="n-130"><rect class="n" x="512.2" y="262.8" width="7" height="7"/><text x="521.2" y="265.3">130</text></g>
<g id="n-191"><rect class="n" x="501.7" y="275" width="6" height="6"/><text x="509.7" y="277.5">191</text></g>
<g id="n-263"><rect class="n" x="572" y="264.7" width="6" height="6"/><text x="580" y="267.2">263</text></g>
<g id="n-218"><rect class="n" x="571.7" y="271.7" width="6" height="6"/><text x="579.7" y="274.2">218</text></g>
<g id="n-281b"><rect class="n" x="568" y="281" width="6" height="6"/><text x="576" y="283.5">281</text></g>
<g id="n-123"><rect class="n" x="573.7" y="290.7" width="6" height="6"/><text x="581.7" y="293.2">123</text></g>
<g id="n-173"><rect class="n" x="483.7" y="289.3" width="6" height="6"/><text x="491.7" y="291.8">173</text></g>
<g id="n-181"><rect class="n" x="555.3" y="310.7" width="8" height="8"/><text x="565.3" y="313.2">181</text></g>
<g id="n-152b"><rect class="n" x="504.7" y="310" width="6" height="6"/><text x="512.7" y="312.5">152</text></g>
<g id="n-133"><rect class="n" x="507.8" y="316.5" width="7" height="7"/><text x="516.8" y="319">133</text></g>
<g id="n-69"><rect class="n" x="526" y="319" width="6" height="6"/><text x="534" y="321.5">69</text></g>
<g id="n-CNM"><circle class="h" cx="594" cy="315.3" r="8"/><text class="hl" x="604" y="309">CNM</text></g>
<g id="n-16"><rect class="n" x="601.3" y="257" width="8" height="8"/><text x="611.3" y="259.5">16</text></g>
<g id="n-54"><rect class="n" x="608.7" y="266.7" width="6" height="6"/><text x="616.7" y="269.2">54</text></g>
<g id="n-50"><rect class="n" x="614.7" y="272.7" width="6" height="6"/><text x="622.7" y="275.2">50</text></g>
<g id="n-14"><rect class="n" x="619.7" y="280.3" width="6" height="6"/><text x="627.7" y="282.8">14</text></g>
<g id="n-104"><rect class="n" x="619.7" y="320.7" width="6" height="6"/><text x="627.7" y="323.2">104</text></g>
<g id="n-271"><rect class="n" x="627" y="335.3" width="6" height="6"/><text x="635" y="337.8">271</text></g>
<g id="n-265"><rect class="n" x="593" y="339.7" width="6" height="6"/><text x="601" y="342.2">265</text></g>
<g id="n-72"><rect class="n" x="610" y="340.7" width="6" height="6"/><text x="618" y="343.2">72</text></g>
<g id="n-215"><rect class="n" x="677.3" y="306.7" width="10" height="10"/><text x="689.3" y="309.2">215</text></g>
<g id="n-VGMA"><circle class="h" cx="373" cy="29" r="6"/><text class="hl" x="382" y="24">VGMA</text></g>
<g id="n-242"><rect class="n" x="408.3" y="25.3" width="6" height="6"/><text x="416.3" y="27.8">242</text></g>
<g id="n-22"><rect class="n" x="330.3" y="61" width="10" height="10"/><text x="342.3" y="63.5">22</text></g>
<g id="n-BPJA"><circle class="h" cx="509.7" cy="26" r="4"/><text class="hl" x="516" y="23">BPJA</text></g>
<g id="n-274"><rect class="n" x="462.5" y="22.2" width="9" height="9"/><text x="473.5" y="24.7">274</text></g>
<g id="n-170"><rect class="n" x="550.7" y="20.3" width="6" height="6"/><text x="558.7" y="22.8">170</text></g>
<g id="n-188"><rect class="n" x="531.5" y="39.8" width="9" height="9"/><text x="542.5" y="42.3">188</text></g>
<g id="n-BGL"><circle class="h" cx="421.3" cy="66.3" r="5"/><text class="hl" x="429" y="63">BGL</text></g>
<g id="n-276"><rect class="n" x="401" y="42.7" width="6" height="6"/><text x="409" y="45.2">276</text></g>
<g id="n-166"><rect class="n" x="436.3" y="39.3" width="6" height="6"/><text x="444.3" y="41.8">166</text></g>
<g id="n-288"><rect class="n" x="461.7" y="47.3" width="8" height="8"/><text x="471.7" y="49.8">288</text></g>
<g id="n-78b"><rect class="n" x="372.7" y="56" width="6" height="6"/><text x="380.7" y="58.5">78</text></g>
<g id="n-58"><rect class="n" x="377" y="73.7" width="6" height="6"/><text x="385" y="76.2">58</text></g>
<g id="n-244"><rect class="n" x="439.3" y="74.7" width="6" height="6"/><text x="447.3" y="77.2">244</text></g>
<g id="n-280"><rect class="n" x="401.3" y="81.7" width="8" height="8"/><text x="411.3" y="84.2">280</text></g>
<g id="n-WCJC"><circle class="h" cx="532.3" cy="120" r="13"/><text class="hl" x="548" y="108">WCJC</text></g>
<g id="n-269"><rect class="n" x="564" y="44.7" width="6" height="6"/><text x="572" y="47.2">269</text></g>
<g id="n-122"><rect class="n" x="578" y="47.3" width="8" height="8"/><text x="588" y="49.8">122</text></g>
<g id="n-86"><rect class="n" x="539.3" y="57.7" width="8" height="8"/><text x="549.3" y="60.2">86</text></g>
<g id="n-73"><rect class="n" x="522.7" y="65.7" width="6" height="6"/><text x="530.7" y="68.2">73</text></g>
<g id="n-150"><rect class="n" x="586.7" y="58.7" width="8" height="8"/><text x="596.7" y="61.2">150</text></g>
<g id="n-175"><rect class="n" x="591.7" y="68.3" width="6" height="6"/><text x="599.7" y="70.8">175</text></g>
<g id="n-80"><rect class="n" x="506.7" y="75.7" width="6" height="6"/><text x="514.7" y="78.2">80</text></g>
<g id="n-264"><rect class="n" x="589.7" y="83.7" width="6" height="6"/><text x="597.7" y="86.2">264</text></g>
<g id="n-3"><rect class="n" x="496.3" y="87" width="6" height="6"/><text x="504.3" y="89.5">3</text></g>
<g id="n-134"><rect class="n" x="484" y="99.7" width="6" height="6"/><text x="492" y="102.2">134</text></g>
<g id="n-261"><rect class="n" x="601" y="102" width="8" height="8"/><text x="611" y="104.5">261</text></g>
<g id="n-88"><rect class="n" x="470.7" y="111.3" width="6" height="6"/><text x="478.7" y="113.8">88</text></g>
<g id="n-12"><rect class="n" x="464.7" y="121.7" width="6" height="6"/><text x="472.7" y="124.2">12</text></g>
<g id="n-232"><rect class="n" x="580.7" y="119" width="6" height="6"/><text x="588.7" y="121.5">232</text></g>
<g id="n-265w"><rect class="n" x="561.3" y="128.7" width="6" height="6"/><text x="569.3" y="131.2">265</text></g>
<g id="n-23"><rect class="n" x="460.7" y="134.3" width="6" height="6"/><text x="468.7" y="136.8">23</text></g>
<g id="n-102"><rect class="n" x="461.3" y="144" width="6" height="6"/><text x="469.3" y="146.5">102</text></g>
<g id="n-238w"><rect class="n" x="549.7" y="145.7" width="8" height="8"/><text x="559.7" y="148.2">238</text></g>
<g id="n-24"><rect class="n" x="462" y="156" width="6" height="6"/><text x="470" y="158.5">24</text></g>
<g id="n-27"><rect class="n" x="465.7" y="169.7" width="6" height="6"/><text x="473.7" y="172.2">27</text></g>
<g id="n-70"><rect class="n" x="476" y="175.7" width="6" height="6"/><text x="484" y="178.2">70</text></g>
<g id="n-135"><rect class="n" x="494" y="165.3" width="6" height="6"/><text x="502" y="167.8">135</text></g>
<g id="n-149"><rect class="n" x="504.3" y="173.3" width="6" height="6"/><text x="512.3" y="175.8">149</text></g>
<g id="n-171"><rect class="n" x="521.8" y="176.5" width="11" height="11"/><text x="534.8" y="179">171</text></g>
<g id="n-204"><rect class="n" x="547" y="171" width="6" height="6"/><text x="555" y="173.5">204</text></g>
<g id="n-AMCM"><circle class="h" cx="686.7" cy="92.7" r="6"/><text class="hl" x="695" y="89">AMCM</text></g>
<g id="n-94"><rect class="n" x="668" y="19.7" width="6" height="6"/><text x="676" y="22.2">94</text></g>
<g id="n-110"><rect class="n" x="685" y="15" width="6" height="6"/><text x="693" y="17.5">110</text></g>
<g id="n-298"><rect class="n" x="697.7" y="16.3" width="6" height="6"/><text x="705.7" y="18.8">298</text></g>
<g id="n-247"><rect class="n" x="711" y="21.3" width="8" height="8"/><text x="721" y="23.8">247</text></g>
<g id="n-187"><rect class="n" x="721.7" y="31.7" width="6" height="6"/><text x="729.7" y="34.2">187</text></g>
<g id="n-55"><rect class="n" x="649.3" y="30" width="8" height="8"/><text x="659.3" y="32.5">55</text></g>
<g id="n-255"><rect class="n" x="729.7" y="43" width="6" height="6"/><text x="737.7" y="45.5">255</text></g>
<g id="n-111"><rect class="n" x="638" y="46" width="6" height="6"/><text x="646" y="48.5">111</text></g>
<g id="n-34"><rect class="n" x="633" y="60.7" width="6" height="6"/><text x="641" y="63.2">34</text></g>
<g id="n-41"><rect class="n" x="636.3" y="77.7" width="6" height="6"/><text x="644.3" y="80.2">41</text></g>
<g id="n-96"><rect class="n" x="647" y="103.3" width="6" height="6"/><text x="655" y="105.8">96</text></g>
<g id="n-115"><rect class="n" x="656.3" y="118.7" width="6" height="6"/><text x="664.3" y="121.2">115</text></g>
<g id="n-179"><rect class="n" x="670.3" y="132" width="8" height="8"/><text x="680.3" y="134.5">179</text></g>
<g id="n-198"><rect class="n" x="693.3" y="121.3" width="6" height="6"/><text x="701.3" y="123.8">198</text></g>
<g id="n-186"><rect class="n" x="721.7" y="111" width="6" height="6"/><text x="729.7" y="113.5">186</text></g>
<g id="n-300"><rect class="n" x="767.5" y="109.8" width="9" height="9"/><text x="778.5" y="112.3">300</text></g>
<g id="n-CCTJ"><circle class="h" cx="797.7" cy="85" r="12.5"/><text class="hl" x="811" y="74">CCTJ</text></g>
<g id="n-20t"><rect class="n" x="793.7" y="22.7" width="6" height="6"/><text x="801.7" y="25.2">20</text></g>
<g id="n-29"><rect class="n" x="774.3" y="32.3" width="8" height="8"/><text x="784.3" y="34.8">29</text></g>
<g id="n-145"><rect class="n" x="809.7" y="28" width="6" height="6"/><text x="817.7" y="30.5">145</text></g>
<g id="n-199"><rect class="n" x="828.3" y="28" width="8" height="8"/><text x="838.3" y="30.5">199</text></g>
<g id="n-155"><rect class="n" x="760" y="46" width="6" height="6"/><text x="768" y="48.5">155</text></g>
<g id="n-208"><rect class="n" x="843.7" y="34.7" width="6" height="6"/><text x="851.7" y="37.2">208</text></g>
<g id="n-220t"><rect class="n" x="854.7" y="41.7" width="6" height="6"/><text x="862.7" y="44.2">220</text></g>
<g id="n-243"><rect class="n" x="862" y="50.3" width="6" height="6"/><text x="870" y="52.8">243</text></g>
<g id="n-35"><rect class="n" x="741.5" y="57.8" width="9" height="9"/><text x="752.5" y="60.3">35</text></g>
<g id="n-276t"><rect class="n" x="866.7" y="59.3" width="10" height="10"/><text x="878.7" y="61.8">276</text></g>
<g id="n-43"><rect class="n" x="868.7" y="71" width="8" height="8"/><text x="878.7" y="73.5">43</text></g>
<g id="n-205"><rect class="n" x="746" y="76.7" width="6" height="6"/><text x="754" y="79.2">205</text></g>
<g id="n-284"><rect class="n" x="869" y="84" width="6" height="6"/><text x="877" y="86.5">284</text></g>
<g id="n-49"><rect class="n" x="744.7" y="92" width="6" height="6"/><text x="752.7" y="94.5">49</text></g>
<g id="n-193"><rect class="n" x="869.7" y="95.7" width="6" height="6"/><text x="877.7" y="98.2">193</text></g>
<g id="n-279"><rect class="n" x="864" y="104.7" width="6" height="6"/><text x="872" y="107.2">279</text></g>
<g id="n-58t"><rect class="n" x="861" y="117.3" width="6" height="6"/><text x="869" y="119.8">58</text></g>
<g id="n-132t"><rect class="n" x="852" y="130.7" width="6" height="6"/><text x="860" y="133.2">132</text></g>
<g id="n-295"><rect class="n" x="842" y="149.7" width="6" height="6"/><text x="850" y="152.2">295</text></g>
<g id="n-118"><rect class="n" x="829.3" y="164.3" width="8" height="8"/><text x="839.3" y="166.8">118</text></g>
<g id="n-MCI"><circle class="h" cx="746.3" cy="153.7" r="4"/><text class="hl" x="753" y="151">MCI</text></g>
<g id="n-211"><rect class="n" x="794.5" y="159.5" width="9" height="9"/><text x="805.5" y="162">211</text></g>
<g id="n-262"><rect class="n" x="781.8" y="174.5" width="7" height="7"/><text x="790.8" y="177">262</text></g>
<g id="n-209"><rect class="n" x="708.8" y="183.5" width="7" height="7"/><text x="717.8" y="186">209</text></g>
<g id="n-254"><rect class="n" x="732.2" y="185.8" width="7" height="7"/><text x="741.2" y="188.3">254</text></g>
<g id="n-267"><rect class="n" x="756.5" y="184.2" width="7" height="7"/><text x="765.5" y="186.7">267</text></g>
<g id="n-VVM"><circle class="h" cx="830.7" cy="237.3" r="7"/><text class="hl" x="841" y="233">VVM</text></g>
<g id="n-136"><rect class="n" x="790.3" y="207.7" width="6" height="6"/><text x="798.3" y="210.2">136</text></g>
<g id="n-271v"><rect class="n" x="822.3" y="206.3" width="6" height="6"/><text x="830.3" y="208.8">271</text></g>
<g id="n-104v"><rect class="n" x="820.3" y="214.7" width="6" height="6"/><text x="828.3" y="217.2">104</text></g>
<g id="n-253"><rect class="n" x="849.7" y="199.3" width="8" height="8"/><text x="859.7" y="201.8">253</text></g>
<g id="n-126"><rect class="n" x="856" y="223.7" width="6" height="6"/><text x="864" y="226.2">126</text></g>
<g id="n-236"><rect class="n" x="869.7" y="229.7" width="6" height="6"/><text x="877.7" y="232.2">236</text></g>
<g id="n-216"><rect class="n" x="873" y="243" width="6" height="6"/><text x="881" y="245.5">216</text></g>
<g id="n-197"><rect class="n" x="763.2" y="232.2" width="9" height="9"/><text x="774.2" y="234.7">197</text></g>
<g id="n-56"><rect class="n" x="784.7" y="256.3" width="8" height="8"/><text x="794.7" y="258.8">56</text></g>
<g id="n-7"><rect class="n" x="861.7" y="253.7" width="6" height="6"/><text x="869.7" y="256.2">7</text></g>
<g id="n-26v"><rect class="n" x="845.7" y="262.7" width="6" height="6"/><text x="853.7" y="265.2">26</text></g>
<g id="n-CBDA"><circle class="h" cx="810" cy="282.7" r="3.5"/><text class="hl" x="817" y="280.5">CBDA</text></g>
<g id="n-44"><rect class="n" x="823" y="263.7" width="6" height="6"/><text x="831" y="266.2">44</text></g>
<g id="n-33"><rect class="n" x="770" y="279.7" width="6" height="6"/><text x="778" y="282.2">33</text></g>
<g id="n-114"><rect class="n" x="853.7" y="280.3" width="6" height="6"/><text x="861.7" y="282.8">114</text></g>
<g id="n-25"><rect class="n" x="864" y="293" width="6" height="6"/><text x="872" y="295.5">25</text></g>
<g id="n-18"><rect class="n" x="826.7" y="296" width="6" height="6"/><text x="834.7" y="298.5">18</text></g>
<g id="n-201"><rect class="n" x="761.7" y="302.7" width="8" height="8"/><text x="771.7" y="305.2">201</text></g>
<g id="n-IPRM"><circle class="h" cx="783.7" cy="350.3" r="6"/><text class="hl" x="792" y="346">IPRM</text></g>
<g id="n-283"><rect class="n" x="734.3" y="308.7" width="6" height="6"/><text x="742.3" y="311.2">283</text></g>
<g id="n-294"><rect class="n" x="794" y="309.7" width="6" height="6"/><text x="802" y="312.2">294</text></g>
<g id="n-63"><rect class="n" x="810.7" y="316" width="6" height="6"/><text x="818.7" y="318.5">63</text></g>
<g id="n-140i"><rect class="n" x="725" y="325" width="6" height="6"/><text x="733" y="327.5">140</text></g>
<g id="n-202"><rect class="n" x="824.7" y="334.7" width="6" height="6"/><text x="832.7" y="337.2">202</text></g>
<g id="n-99"><rect class="n" x="819.7" y="344.3" width="6" height="6"/><text x="827.7" y="346.8">99</text></g>
<g id="n-91"><rect class="n" x="725.3" y="342.3" width="6" height="6"/><text x="733.3" y="344.8">91</text></g>
<g id="n-84"><rect class="n" x="737.3" y="358" width="8" height="8"/><text x="747.3" y="360.5">84</text></g>
<g id="n-61"><rect class="n" x="804.7" y="357" width="6" height="6"/><text x="812.7" y="359.5">61</text></g>
<g id="n-137"><rect class="n" x="776" y="377" width="6" height="6"/><text x="784" y="379.5">137</text></g>
<g id="n-CDRMT"><circle class="h" cx="791" cy="453.3" r="11"/><text class="hl" x="804" y="444">CDRMT</text></g>
<g id="n-113"><rect class="n" x="825" y="372.7" width="6" height="6"/><text x="833" y="375.2">113</text></g>
<g id="n-266"><rect class="n" x="833.7" y="381" width="8" height="8"/><text x="843.7" y="383.5">266</text></g>
<g id="n-234"><rect class="n" x="841" y="391.7" width="6" height="6"/><text x="849" y="394.2">234</text></g>
<g id="n-147"><rect class="n" x="845" y="400" width="6" height="6"/><text x="853" y="402.5">147</text></g>
<g id="n-165"><rect class="n" x="848" y="412.3" width="6" height="6"/><text x="856" y="414.8">165</text></g>
<g id="n-67"><rect class="n" x="852" y="422.7" width="6" height="6"/><text x="860" y="425.2">67</text></g>
<g id="n-46"><rect class="n" x="855.3" y="432" width="6" height="6"/><text x="863.3" y="434.5">46</text></g>
<g id="n-57"><rect class="n" x="857.3" y="441.3" width="8" height="8"/><text x="867.3" y="443.8">57</text></g>
<g id="n-81"><rect class="n" x="854.8" y="453.5" width="15" height="15"/><text x="871.8" y="456">81</text></g>
<g id="n-32"><rect class="n" x="850.2" y="472.5" width="7" height="7"/><text x="859.2" y="475">32</text></g>
<g id="n-51"><rect class="n" x="837.7" y="484.7" width="6" height="6"/><text x="845.7" y="487.2">51</text></g>
<g id="n-66"><rect class="n" x="820.8" y="490.5" width="7" height="7"/><text x="829.8" y="493">66</text></g>
<g id="n-11"><rect class="n" x="790.7" y="488.7" width="12" height="12"/><text x="804.7" y="491.2">11</text></g>
<g id="n-79"><rect class="n" x="774.3" y="486.7" width="6" height="6"/><text x="782.3" y="489.2">79</text></g>
<g id="n-92"><rect class="n" x="763" y="481" width="6" height="6"/><text x="771" y="483.5">92</text></g>
<g id="n-156"><rect class="n" x="753.2" y="473.8" width="7" height="7"/><text x="762.2" y="476.3">156</text></g>
<g id="n-168d"><rect class="n" x="741" y="466.3" width="8" height="8"/><text x="751" y="468.8">168</text></g>
<g id="n-299"><rect class="n" x="722" y="462.7" width="6" height="6"/><text x="730" y="465.2">299</text></g>
<g id="n-211d"><rect class="n" x="710" y="454.3" width="6" height="6"/><text x="718" y="456.8">211</text></g>
<g id="n-184"><rect class="n" x="705.3" y="443.3" width="6" height="6"/><text x="713.3" y="445.8">184</text></g>
<g id="n-112"><rect class="n" x="698.7" y="434" width="6" height="6"/><text x="706.7" y="436.5">112</text></g>
<g id="n-233"><rect class="n" x="689" y="424.7" width="6" height="6"/><text x="697" y="427.2">233</text></g>
<g id="n-275"><rect class="n" x="682.7" y="408.3" width="8" height="8"/><text x="692.7" y="410.8">275</text></g>
<g id="n-203"><rect class="n" x="694" y="395.7" width="6" height="6"/><text x="702" y="398.2">203</text></g>
<g id="n-249"><rect class="n" x="705.7" y="383" width="8" height="8"/><text x="715.7" y="385.5">249</text></g>
<g id="n-231"><rect class="n" x="741" y="388.3" width="6" height="6"/><text x="749" y="390.8">231</text></g>
</svg>
